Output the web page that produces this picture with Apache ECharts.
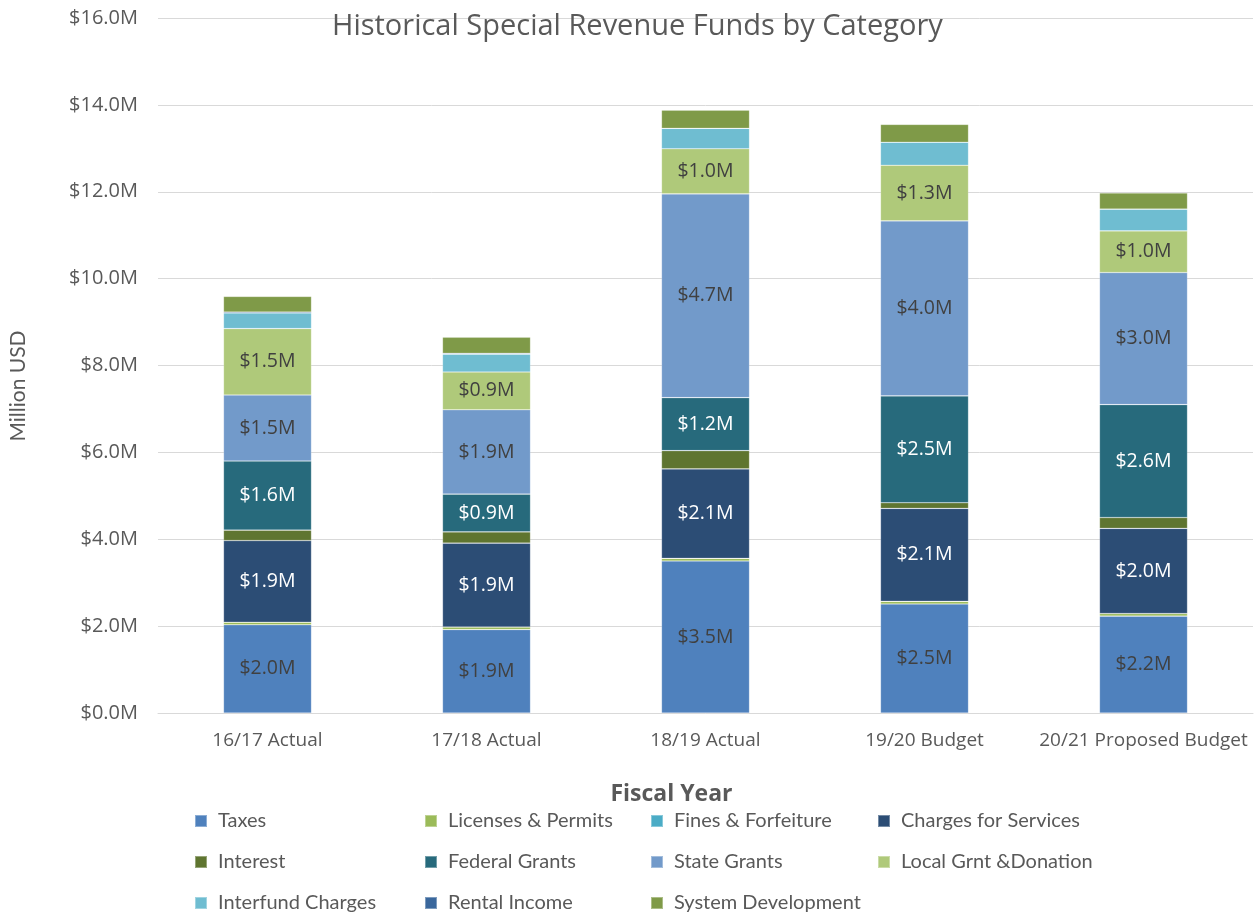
<!DOCTYPE html>
<html>
<head>
<meta charset="utf-8">
<script src="https://cdn.jsdelivr.net/npm/echarts@6/dist/echarts.min.js"></script>
<style>
  html, body { margin: 0; padding: 0; background: #fff; }
  #chart { width: 1255px; height: 914px; }
</style>
</head>
<body>
<div id="chart"></div>
<script>
// Fiscal years on the category axis
const years = ['16/17 Actual', '17/18 Actual', '18/19 Actual', '19/20 Budget', '20/21 Proposed Budget'];

// Revenue by category, in millions of dollars
const taxes        = [2.03, 1.92, 3.50, 2.51, 2.23];
const licenses     = [0.06, 0.06, 0.06, 0.06, 0.06];
const fines        = [0.00, 0.00, 0.00, 0.00, 0.00];
const charges      = [1.88, 1.93, 2.06, 2.14, 1.96];
const interest     = [0.24, 0.26, 0.42, 0.13, 0.25];
const federal      = [1.59, 0.87, 1.22, 2.46, 2.60];
const stateGrants  = [1.52, 1.94, 4.69, 4.03, 3.04];
const localGrants  = [1.53, 0.87, 1.04, 1.28, 0.96];
const interfund    = [0.36, 0.41, 0.47, 0.53, 0.50];
const rental       = [0.02, 0.02, 0.00, 0.00, 0.00];
const systemDev    = [0.36, 0.37, 0.42, 0.41, 0.37];

// Y-axis range and step (millions)
const yMin = 0, yMax = 16, yStep = 2;

const money = v => '$' + Number(v).toFixed(1) + 'M';

function seriesOf(name, data, color, labelColor) {
  const s = {
    name, type: 'bar', stack: 'total', data,
    barWidth: 88,
    itemStyle: { color, borderColor: 'rgba(255,255,255,0.35)', borderWidth: 0.6 },
    emphasis: { disabled: true },
    label: { show: false }
  };
  if (labelColor) {
    s.label = {
      show: true, position: 'inside',
      formatter: p => money(p.value),
      color: labelColor,
      fontFamily: 'Open Sans', fontSize: 19.5
    };
  }
  return s;
}

const series = [
  seriesOf('Taxes', taxes, '#4F81BD', '#404040'),
  seriesOf('Licenses & Permits', licenses, '#9BBB59'),
  seriesOf('Fines & Forfeiture', fines, '#4BACC6'),
  seriesOf('Charges for Services', charges, '#2C4D75', '#FFFFFF'),
  seriesOf('Interest', interest, '#5F7530'),
  seriesOf('Federal Grants', federal, '#276A7C', '#FFFFFF'),
  seriesOf('State Grants', stateGrants, '#729ACA', '#404040'),
  seriesOf('Local Grnt &Donation', localGrants, '#AFC97A', '#404040'),
  seriesOf('Interfund Charges', interfund, '#6FBDD1'),
  seriesOf('Rental Income', rental, '#3A679C'),
  seriesOf('System Development', systemDev, '#7F9A48')
];

// Legend laid out as four fixed columns
const legendCols = [
  { left: 194, names: ['Taxes', 'Interest', 'Interfund Charges'] },
  { left: 424, names: ['Licenses & Permits', 'Federal Grants', 'Rental Income'] },
  { left: 650, names: ['Fines & Forfeiture', 'State Grants', 'System Development'] },
  { left: 877, names: ['Charges for Services', 'Local Grnt &Donation'] }
];
const legends = legendCols.map(c => ({
  data: c.names, orient: 'vertical', left: c.left, top: 811, height: 110,
  padding: 0,
  icon: 'rect', itemWidth: 12, itemHeight: 12, itemGap: 21,
  selectedMode: false,
  textStyle: { fontFamily: 'Lato', fontSize: 20, color: '#595959', lineHeight: 20, padding: [0, 0, 0, 6] }
}));

const chart = echarts.init(document.getElementById('chart'), null, { renderer: 'canvas' });
chart.setOption({
  animation: false,
  title: {
    text: 'Historical Special Revenue Funds by Category',
    left: 327, top: 7,
    textStyle: { fontFamily: 'Open Sans', fontSize: 29, fontWeight: 'normal', color: '#595959' }
  },
  legend: legends,
  graphic: [{
    type: 'text', x: 18, y: 386, rotation: Math.PI / 2,
    style: {
      text: 'Million USD', fontFamily: 'Lato', fontSize: 21, fill: '#595959',
      align: 'center', verticalAlign: 'middle'
    }
  }],
  grid: { left: 158, right: 2, top: 18, bottom: 201, containLabel: false },
  xAxis: {
    type: 'category', data: years,
    axisLine: { lineStyle: { color: '#D9D9D9' } },
    axisTick: { show: false },
    axisLabel: { interval: 0, fontFamily: 'Open Sans', fontSize: 19, color: '#595959', margin: 18 },
    name: 'Fiscal Year', nameLocation: 'middle', nameGap: 70,
    nameTextStyle: { fontFamily: 'Open Sans', fontSize: 23, fontWeight: 'bold', color: '#595959', padding: [0, 68, 0, 0] }
  },
  yAxis: {
    type: 'value', min: yMin, max: yMax, interval: yStep,
    axisLine: { show: false }, axisTick: { show: false },
    splitLine: { lineStyle: { color: '#D9D9D9', width: 1 } },
    axisLabel: { formatter: v => money(v), fontFamily: 'Open Sans', fontSize: 20, color: '#595959', margin: 20 }
  },
  series
});
</script>
</body>
</html>
